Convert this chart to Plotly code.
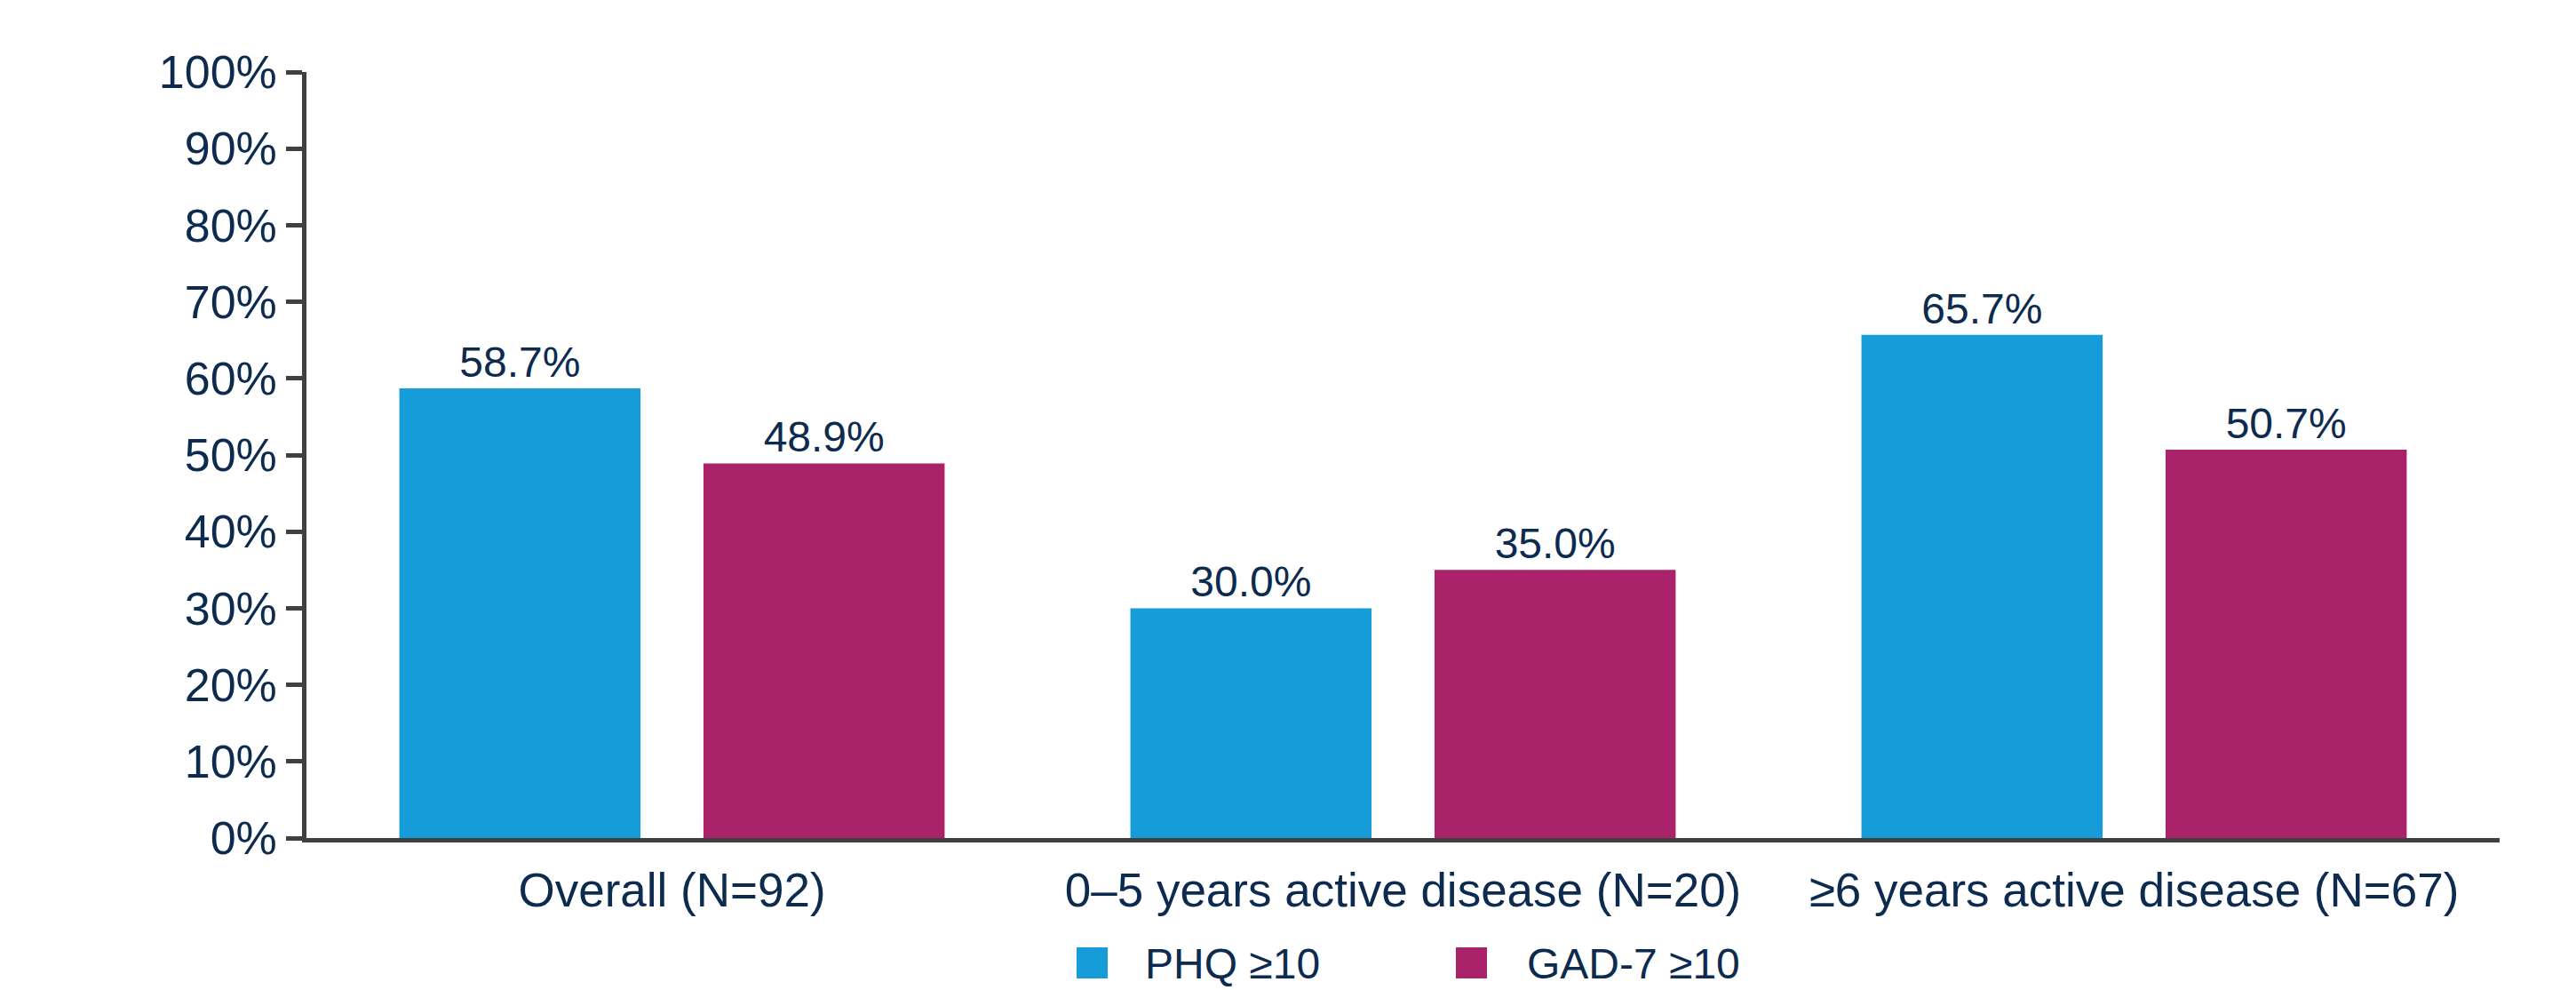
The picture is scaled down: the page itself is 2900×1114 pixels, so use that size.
import plotly.graph_objects as go

categories = ["Overall (N=92)", "0–5 years active disease (N=20)", "≥6 years active disease (N=67)"]
series_names = ["PHQ ≥10", "GAD-7 ≥10"]
phq_values = [58.7, 30.0, 65.7]
gad_values = [48.9, 35.0, 50.7]
colors = ["#169CD8", "#AA236A"]
y_ticks = [0, 10, 20, 30, 40, 50, 60, 70, 80, 90, 100]
y_ticklabels = [f"{v}%" for v in y_ticks]

W, H = 2900, 1114
ML, MR, MT, MB = 345, 86, 81, 171
FONT = "Liberation Sans, Arial, sans-serif"
NAVY = "#0D2B4F"
AXIS = "#404040"

fig = go.Figure()
for name, vals, col in zip(series_names, [phq_values, gad_values], colors):
    fig.add_trace(go.Bar(
        x=categories, y=vals, name=name,
        marker=dict(color=col, line=dict(width=0)),
        text=[f"{v:.1f}%" for v in vals],
        textposition="outside",
        textfont=dict(family=FONT, size=48, color=NAVY),
        cliponaxis=False,
        showlegend=False,
    ))

# legend drawn as shapes + annotations (swatch size matches reference)
pw = W - ML - MR
ph = H - MT - MB
def px_x(p):
    return (p - ML) / pw
def px_y(p):
    return (H - MB - p) / ph

legend_items = [(series_names[0], colors[0], 1212, 1287), (series_names[1], colors[1], 1639, 1717)]
for name, col, sx, tx in legend_items:
    fig.add_shape(type="rect", xref="paper", yref="paper",
                  x0=px_x(sx), x1=px_x(sx + 35), y0=px_y(1066), y1=px_y(1101),
                  fillcolor=col, line=dict(width=0))
    fig.add_annotation(xref="paper", yref="paper", x=px_x(tx), y=px_y(1084),
                       xanchor="left", yanchor="middle", showarrow=False,
                       text=name, font=dict(family=FONT, size=48, color=NAVY))

fig.update_layout(
    width=W, height=H,
    margin=dict(l=ML, r=MR, t=MT, b=MB, pad=0),
    paper_bgcolor="white", plot_bgcolor="white",
    barmode="group", bargap=0.168, bargroupgap=0.207,
    font=dict(family=FONT, color=NAVY),
    showlegend=False,
)
fig.update_xaxes(
    type="category", showgrid=False, zeroline=False,
    showline=True, linecolor=AXIS, linewidth=4.5,
    ticks="", tickfont=dict(family=FONT, size=53, color=NAVY),
    ticklabelstandoff=9,
)
fig.update_yaxes(
    range=[0, 100], tickvals=y_ticks, ticktext=y_ticklabels,
    showgrid=False, zeroline=False,
    showline=True, linecolor=AXIS, linewidth=4.5,
    ticks="outside", ticklen=18, tickwidth=4.5, tickcolor=AXIS,
    tickfont=dict(family=FONT, size=52, color=NAVY),
    ticklabelstandoff=0,
)

fig.write_html("out.html")
